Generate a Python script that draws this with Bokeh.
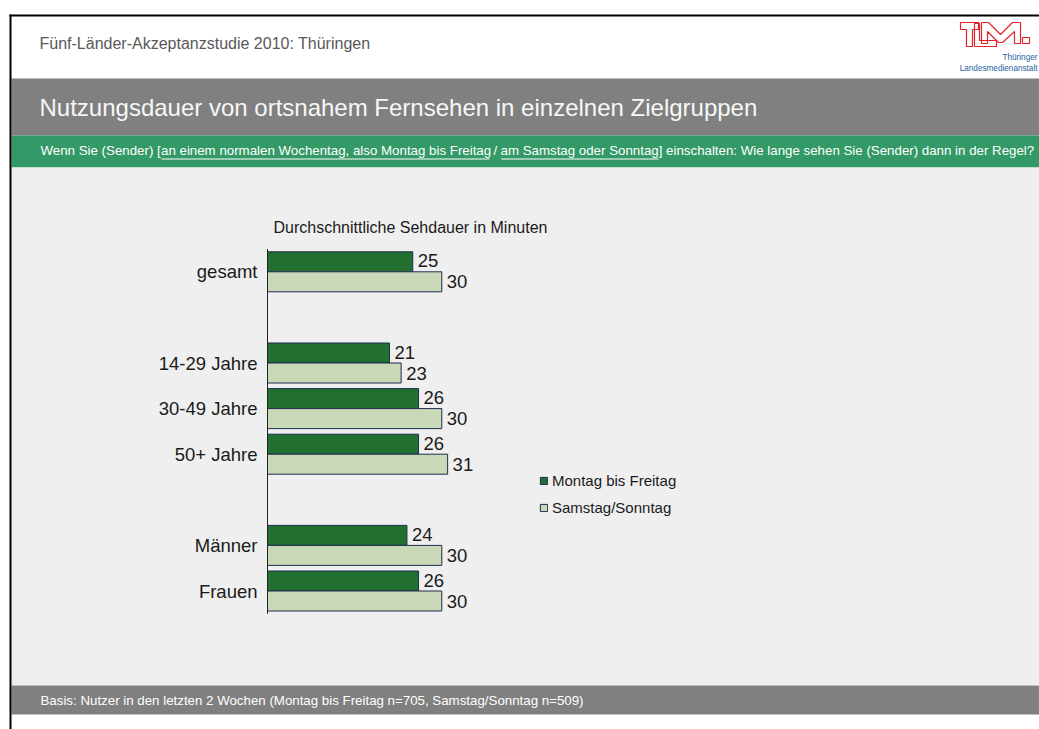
from bokeh.plotting import figure
from bokeh.models import Range1d, Legend, LegendItem
from bokeh.core.properties import value
from bokeh.embed import file_html
from bokeh.resources import INLINE

# ---------------- data ----------------
categories = ["gesamt", "", "14-29 Jahre", "30-49 Jahre", "50+ Jahre", "", "Männer", "Frauen"]
weekday = [25, None, 21, 26, 26, None, 24, 26]
weekend = [30, None, 23, 30, 31, None, 30, 30]
series_names = ["Montag bis Freitag", "Samstag/Sonntag"]

header_text = "Fünf-Länder-Akzeptanzstudie 2010: Thüringen"
title_text = "Nutzungsdauer von ortsnahem Fernsehen in einzelnen Zielgruppen"
question_parts = ["Wenn Sie (Sender) [", "an einem normalen Wochentag, also Montag bis Freitag", "/",
                  "am Samstag oder Sonntag", "] einschalten: Wie lange sehen Sie (Sender) dann in der Regel?"]
chart_title = "Durchschnittliche Sehdauer in Minuten"
footer_text = "Basis: Nutzer in den letzten 2 Wochen (Montag bis Freitag n=705, Samstag/Sonntag n=509)"

# ---------------- layout ----------------
W, H = 1039, 729
FONT_NAME = "Liberation Sans"
FONT = value(FONT_NAME)
PX_PER_MIN = 5.81      # horizontal scale of the bar chart
AXIS_X = 267           # canvas x of value 0
SLOT_PX = 45.6         # height of one category slot
TOP_PX = 248.5         # canvas y of the top of the category axis
BAR_PX = 20.0

DARK = "#21702f"
LIGHT = "#c9d9b7"
EDGE = "#1c2d4f"

p = figure(width=W, height=H, output_backend="svg", toolbar_location=None,
           x_range=Range1d(-AXIS_X / PX_PER_MIN, (W - AXIS_X) / PX_PER_MIN),
           y_range=Range1d((H - TOP_PX) / SLOT_PX, -TOP_PX / SLOT_PX),
           x_axis_location=None, y_axis_location=None, min_border=0,
           background_fill_color="white", border_fill_color="white", outline_line_color=None)
p.grid.visible = False
p.extra_x_ranges = {"px": Range1d(0, W)}
p.extra_y_ranges = {"px": Range1d(H, 0)}

PX = dict(x_range_name="px", y_range_name="px")


def box(l, r, t, b, color):
    p.quad(left=[l], right=[r], top=[t], bottom=[b], fill_color=color, line_color=None, **PX)


# slide background bands
box(11, W, 78, 135, "#808080")
box(11, W, 135, 167, "#339966")
box(11, W, 167, 685, "#efefef")
box(11, W, 685, 714, "#808080")
# slide border
box(9, W, 14, 16, "#000000")
box(9, 11, 14, H, "#000000")

# header texts
p.text(x=[39], y=[43], text=[header_text], text_font=FONT, text_font_size="16px",
       text_color="#595959", text_baseline="middle", **PX)
p.text(x=[39], y=[107], text=[title_text], text_font=FONT, text_font_size="24px",
       text_color="#f7f7f7", text_baseline="middle", **PX)
q_x = [40, 160.5, 493, 500, 658.2]
p.text(x=q_x, y=[150] * 5, text=question_parts, text_font=FONT, text_font_size="13.3px",
       text_color="#ffffff", text_baseline="middle", **PX)
p.segment(x0=[161, 500.7], y0=[158.5, 158.5], x1=[489, 658], y1=[158.5, 158.5],
          line_color="#ffffff", line_width=1, **PX)
p.text(x=[40], y=[700], text=[footer_text], text_font=FONT, text_font_size="13.3px",
       text_color="#ffffff", text_baseline="middle", **PX)

# logo (decoration)
logo_polys = [
    [(960, 22), (978, 22), (978, 29), (972, 29), (972, 46), (966, 46), (966, 29), (960, 29)],
    [(974, 23), (979, 23), (979, 40), (996, 40), (996, 46), (974, 46)],
    [(981, 43), (981, 22), (988, 22), (1000, 34), (1012, 22), (1020, 22), (1020, 43), (1014, 43),
     (1014, 31), (1002, 42), (998, 42), (987, 31), (987, 43)],
    [(1022, 37), (1029, 37), (1029, 43), (1022, 43)],
]
p.patches(xs=[[x for x, _ in poly] for poly in logo_polys],
          ys=[[y for _, y in poly] for poly in logo_polys],
          fill_alpha=0, line_color="#e3232c", line_width=1.2, **PX)
p.text(x=[1037, 1037], y=[56.5, 67.5], text=["Thüringer", "Landesmedienanstalt"],
       text_font=FONT, text_font_size="8.2px", text_color="#1f5f9f", text_align="right",
       text_baseline="middle", **PX)

# ---------------- chart ----------------
p.text(x=[273], y=[227], text=[chart_title], text_font=FONT, text_font_size="16px",
       text_color="#1a1a1a", text_baseline="middle", **PX)

centers = [i + 0.5 for i in range(len(categories))]
bh = BAR_PX / SLOT_PX
idx = [i for i, c in enumerate(categories) if c]

dark_y = [centers[i] - bh / 2 for i in idx]
light_y = [centers[i] + bh / 2 for i in idx]
wd = [weekday[i] for i in idx]
we = [weekend[i] for i in idx]

r_dark = p.hbar(y=dark_y, left=0, right=wd, height=bh, fill_color=DARK, line_color=EDGE, line_width=1)
r_light = p.hbar(y=light_y, left=0, right=we, height=bh, fill_color=LIGHT, line_color=EDGE, line_width=1)

# category axis line
p.segment(x0=[0], y0=[0], x1=[0], y1=[len(categories)], line_color="#222222", line_width=1)

# category labels
p.text(x=[0] * len(idx), y=[centers[i] for i in idx], text=[categories[i] for i in idx],
       x_offset=-10, text_align="right", text_baseline="middle", text_font=FONT,
       text_font_size="18.5px", text_color="#1a1a1a")

# value labels
p.text(x=wd, y=dark_y, text=[str(v) for v in wd], x_offset=5, y_offset=-1, text_align="left",
       text_baseline="middle", text_font=FONT, text_font_size="18.5px", text_color="#1a1a1a")
p.text(x=we, y=light_y, text=[str(v) for v in we], x_offset=5, text_align="left",
       text_baseline="middle", text_font=FONT, text_font_size="18.5px", text_color="#1a1a1a")

legend = Legend(items=[LegendItem(label=series_names[0], renderers=[r_dark]),
                       LegendItem(label=series_names[1], renderers=[r_light])],
                location=(539, 212), orientation="vertical", glyph_width=9, glyph_height=9,
                label_standoff=4, label_text_font=FONT_NAME, label_text_font_size="15px",
                label_text_color="#1a1a1a", label_height=20, spacing=7, padding=0, margin=0,
                border_line_color=None, background_fill_alpha=0)
p.add_layout(legend)

open("out.html", "w").write(file_html(p, INLINE))
